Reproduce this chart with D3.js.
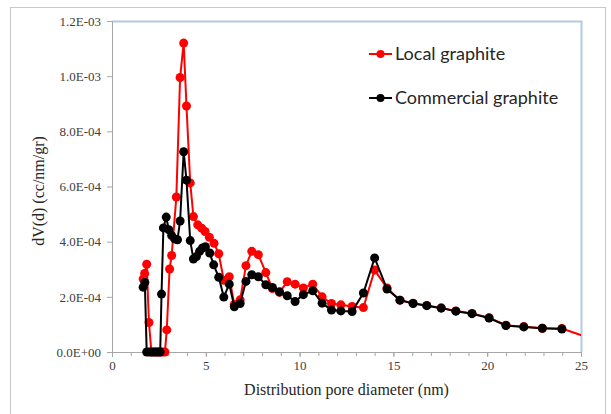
<!DOCTYPE html>
<html>
<head>
<meta charset="utf-8">
<script src="https://cdn.jsdelivr.net/npm/d3@7"></script>
<style>
  body { margin: 0; background: #fff; }
  .tick text { font-family: "Liberation Serif", "Times New Roman", serif; font-size: 13px; fill: #404040; }
  .axisTitle { font-family: "Liberation Serif", "Times New Roman", serif; font-size: 16px; fill: #262626; }
  .legendText { font-family: Lato, "Open Sans", sans-serif; font-size: 18px; fill: #262626; }
</style>
</head>
<body>
<script>
//series data (pore diameter in nm, dV(d) in cc/nm/gr)
var localX = [1.66, 1.74, 1.85, 1.97, 2.1, 2.25, 2.4, 2.55, 2.7, 2.82, 2.92, 3.07, 3.18, 3.43, 3.63, 3.82, 3.97, 4.17, 4.34, 4.57, 4.78, 4.96, 5.19, 5.44, 5.69, 5.96, 6.25, 6.52, 6.83, 7.14, 7.45, 7.8, 8.2, 8.55, 8.93, 9.34, 9.76, 10.2, 10.7, 11.2, 11.7, 12.2, 12.8, 13.4, 14.0, 14.66, 15.35, 16.05, 16.78, 17.55, 18.33, 19.19, 20.1, 21.0, 21.95, 22.94, 23.98, 25.1];
var localY = [2.65e-4, 2.85e-4, 3.18e-4, 1.07e-4, 0, 0, 0, 0, 0, 0, 0.8e-4, 3.01e-4, 3.5e-4, 5.62e-4, 9.95e-4, 11.2e-4, 8.92e-4, 6.13e-4, 4.91e-4, 4.61e-4, 4.49e-4, 4.37e-4, 4.16e-4, 3.94e-4, 3.56e-4, 2.6e-4, 2.73e-4, 1.72e-4, 1.89e-4, 3.13e-4, 3.65e-4, 3.53e-4, 2.88e-4, 2.3e-4, 2.16e-4, 2.55e-4, 2.46e-4, 2.32e-4, 2.46e-4, 2.0e-4, 1.76e-4, 1.71e-4, 1.65e-4, 1.61e-4, 2.97e-4, 2.32e-4, 1.88e-4, 1.77e-4, 1.69e-4, 1.6e-4, 1.49e-4, 1.4e-4, 1.24e-4, 0.97e-4, 0.92e-4, 0.86e-4, 0.85e-4, 0.59e-4];

var commX = [1.66, 1.75, 1.85, 2.0, 2.15, 2.3, 2.45, 2.57, 2.64, 2.74, 2.89, 3.03, 3.18, 3.34, 3.49, 3.63, 3.82, 3.97, 4.17, 4.34, 4.5, 4.67, 4.82, 4.98, 5.21, 5.42, 5.69, 5.96, 6.25, 6.52, 6.83, 7.14, 7.45, 7.8, 8.2, 8.55, 8.93, 9.34, 9.76, 10.2, 10.7, 11.2, 11.7, 12.2, 12.8, 13.4, 14.0, 14.66, 15.35, 16.05, 16.78, 17.55, 18.33, 19.19, 20.1, 21.0, 21.95, 22.94, 23.98];
var commY = [2.35e-4, 2.52e-4, 0, 0, 0, 0, 0, 0, 2.1e-4, 4.5e-4, 4.89e-4, 4.43e-4, 4.22e-4, 4.1e-4, 4.07e-4, 4.75e-4, 7.26e-4, 6.23e-4, 4.04e-4, 3.37e-4, 3.46e-4, 3.65e-4, 3.77e-4, 3.82e-4, 3.59e-4, 3.16e-4, 2.71e-4, 1.99e-4, 2.46e-4, 1.64e-4, 1.76e-4, 2.56e-4, 2.8e-4, 2.73e-4, 2.44e-4, 2.34e-4, 2.18e-4, 2.04e-4, 1.83e-4, 2.08e-4, 2.22e-4, 1.77e-4, 1.52e-4, 1.49e-4, 1.47e-4, 2.14e-4, 3.41e-4, 2.28e-4, 1.88e-4, 1.76e-4, 1.68e-4, 1.59e-4, 1.48e-4, 1.39e-4, 1.23e-4, 0.96e-4, 0.91e-4, 0.86e-4, 0.83e-4];

var xTicks = [0, 5, 10, 15, 20, 25];
var yTicks = [0, 2e-4, 4e-4, 6e-4, 8e-4, 10e-4, 12e-4];
var seriesNames = ["Local graphite", "Commercial graphite"];
var seriesColors = ["#ff0000", "#000000"];

var width = 611, height = 414;
var margin = { top: 21, right: 30, bottom: 62, left: 112 };
var plotW = 581 - margin.left, plotH = 352 - margin.top;

var svg = d3.select("body").append("svg")
    .attr("width", width)
    .attr("height", height);

//outer chart border
svg.append("rect")
    .attr("x", 10.5).attr("y", 7.5)
    .attr("width", 595).attr("height", 420)
    .attr("fill", "none")
    .attr("stroke", "#c8c8c8");

var g = svg.append("g")
    .attr("transform", "translate(" + margin.left + "," + margin.top + ")");

var x = d3.scaleLinear().domain([0, 25]).range([0, plotW]);
var y = d3.scaleLinear().domain([0, 1.2e-3]).range([plotH, 0]);

//plot area border (top and right)
g.append("path")
    .attr("d", "M0,0.5H" + (plotW + 0.5) + "V" + plotH)
    .attr("fill", "none")
    .attr("stroke", "#b4c7e7")
    .attr("stroke-width", 2);

g.append("defs").append("clipPath").attr("id", "clip")
    .append("rect").attr("x", 0).attr("y", -10).attr("width", plotW).attr("height", plotH + 20);

//minor x ticks
g.append("g")
    .attr("transform", "translate(0," + plotH + ")")
    .call(d3.axisBottom(x).tickValues(d3.range(0, 26, 1)).tickSize(4).tickFormat(""))
    .call(function(a){ a.select(".domain").remove(); })
    .selectAll("line").attr("stroke", "#a6a6a6");

//x axis
var xAxis = g.append("g")
    .attr("transform", "translate(0," + plotH + ")")
    .call(d3.axisBottom(x).tickValues(xTicks).tickSize(5).tickSizeOuter(0).tickPadding(4));
xAxis.select(".domain").attr("stroke", "#a6a6a6");
xAxis.selectAll("line").attr("stroke", "#a6a6a6");

//y axis
var yAxis = g.append("g")
    .call(d3.axisLeft(y).tickValues(yTicks).tickSize(5).tickSizeOuter(0).tickPadding(6)
        .tickFormat(function(d){
            var s = d3.format(".1e")(d).toUpperCase(); // e.g. 1.2E-3
            return s.replace(/E([+-])(\d)$/, "E$10$2");
        }));
yAxis.select(".domain").attr("stroke", "#a6a6a6");
yAxis.selectAll("line").attr("stroke", "#a6a6a6");

//axis titles
svg.append("text")
    .attr("class", "axisTitle")
    .attr("x", margin.left + plotW / 2)
    .attr("y", 395)
    .attr("text-anchor", "middle")
    .text("Distribution pore diameter (nm)");

svg.append("text")
    .attr("class", "axisTitle")
    .attr("transform", "translate(44," + (margin.top + 170) + ") rotate(-90)")
    .attr("text-anchor", "middle")
    .text("dV(d) (cc/nm/gr)");

//series
var line = d3.line()
    .x(function(d){ return x(d[0]); })
    .y(function(d){ return y(d[1]); });

var series = [d3.zip(localX, localY), d3.zip(commX, commY)];

series.forEach(function(data, i){
    var sg = g.append("g").attr("clip-path", "url(#clip)");
    sg.append("path")
        .datum(data)
        .attr("d", line)
        .attr("fill", "none")
        .attr("stroke", seriesColors[i])
        .attr("stroke-width", 2);
    sg.selectAll("circle")
        .data(data.filter(function(d){ return d[0] <= 25; }))
        .enter()
        .append("circle")
        .attr("cx", function(d){ return x(d[0]); })
        .attr("cy", function(d){ return y(d[1]); })
        .attr("r", 4.5)
        .attr("fill", seriesColors[i]);
});

//legend
var legend = svg.append("g");
seriesNames.forEach(function(name, i){
    var ly = 54 + i * 44;
    legend.append("line")
        .attr("x1", 369).attr("x2", 392)
        .attr("y1", ly).attr("y2", ly)
        .attr("stroke", seriesColors[i]).attr("stroke-width", 2);
    legend.append("circle")
        .attr("cx", 380.5).attr("cy", ly).attr("r", 4)
        .attr("fill", seriesColors[i]);
    legend.append("text")
        .attr("class", "legendText")
        .attr("x", 395).attr("y", ly + 6)
        .text(name);
});
</script>
</body>
</html>
